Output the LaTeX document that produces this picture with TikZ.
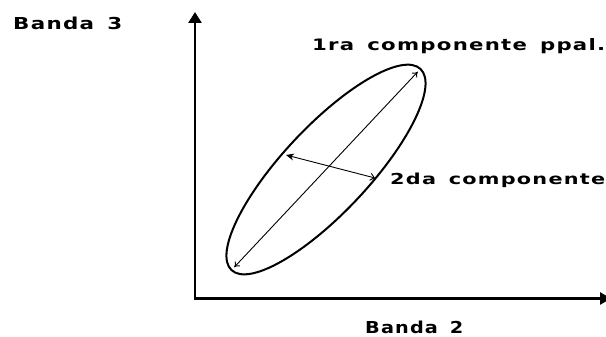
\documentclass[tikz,border=0pt]{standalone}
\usepackage{fontspec}
\usepackage{graphicx}
\usetikzlibrary{arrows.meta,calc}
\newfontfamily\lblfont[LetterSpace=6,WordSpace=1.5]{DejaVu Sans}
\newcommand{\lbltext}[3]{\resizebox{#1pt}{#2pt}{\lblfont\bfseries #3}}
\begin{document}
\begin{tikzpicture}[x=1pt,y=1pt,
  axisline/.style={line width=2.6pt,{Triangle[length=11pt,width=13pt]}-{Triangle[length=11pt,width=12pt]}},
  ellipseline/.style={line width=2pt},
  pcline/.style={line width=0.9pt},
  lbl/.style={inner sep=0pt,anchor=base west}]
\useasboundingbox (0,0) rectangle (606,337);
% axes
\coordinate (origin) at (195,38.5);
\coordinate (ytip) at (195,325);
\coordinate (xtip) at (611,38.5);
\draw[axisline] (ytip) -- (origin) -- (xtip);
% ellipse
\coordinate (c) at (326,167.5);
\draw[ellipseline,rotate around={46.8:(c)}] (c) ellipse [x radius=138, y radius=43];
% principal components
\coordinate (maj1) at ($(c)+(226.8:134)$);
\coordinate (maj2) at ($(c)+(46.8:134)$);
\coordinate (min1) at (286,182);
\coordinate (min2) at (375,159);
\draw[pcline,{To[length=5pt,width=7pt]}-{To[length=5pt,width=7pt]}] (maj1) -- (maj2);
\draw[pcline,{Stealth[length=8pt,width=7pt]}-{Straight Barb[length=4pt,width=7pt]}] (min1) -- (min2);
% labels
\node[lbl] (b3) at (13,307) {\lbltext{109}{12.5}{Banda 3}};
\node[lbl] (pc1) at (312,286) {\lbltext{293}{12}{1ra componente ppal.}};
\node[lbl] (pc2) at (390,152) {\lbltext{215}{11.5}{2da componente}};
\node[lbl] (b2) at (365,3) {\lbltext{98}{12.5}{Banda 2}};
\end{tikzpicture}
\end{document}
